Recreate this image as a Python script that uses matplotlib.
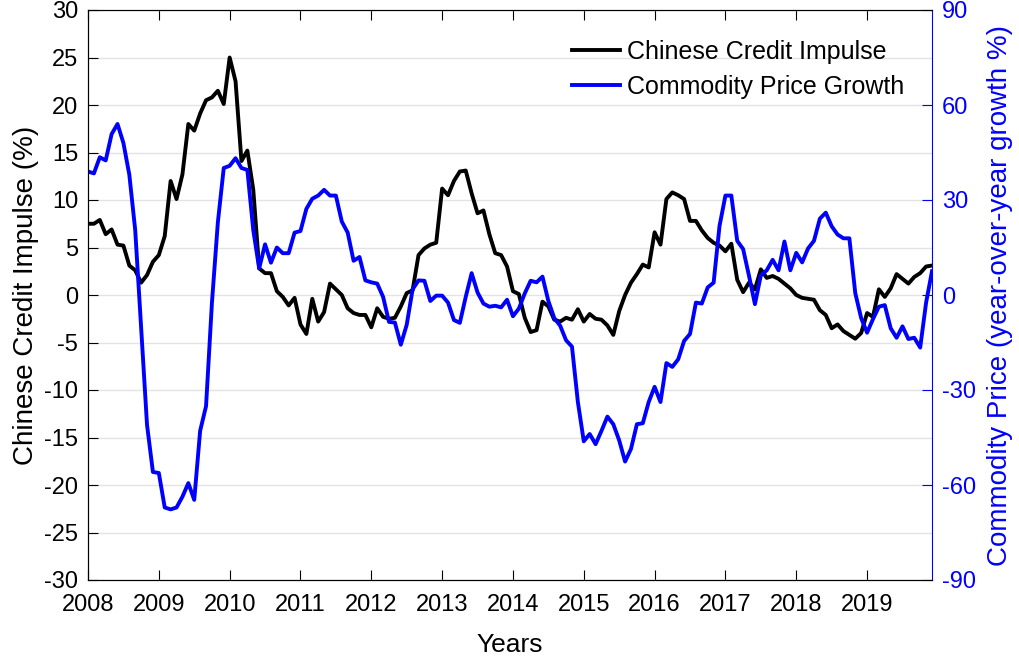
import numpy as np
import matplotlib.pyplot as plt

plt.rcParams['font.family'] = ['Liberation Sans', 'DejaVu Sans']
plt.rcParams['axes.unicode_minus'] = False

# monthly, Jan 2008 .. Dec 2019
credit_impulse = [
    7.5, 7.5, 7.9, 6.4, 6.9, 5.3, 5.2, 3.1, 2.6, 1.3, 2.1, 3.5,          # 2008
    4.2, 6.2, 12.0, 10.1, 12.7, 18.0, 17.3, 19.1, 20.5, 20.8, 21.5, 20.1,  # 2009
    25.0, 22.5, 14.1, 15.2, 11.1, 2.8, 2.3, 2.3, 0.4, -0.2, -1.1, -0.3,    # 2010
    -3.1, -4.1, -0.4, -2.8, -1.8, 1.2, 0.6, 0.0, -1.4, -1.9, -2.1, -2.1,   # 2011
    -3.4, -1.4, -2.3, -2.5, -2.4, -1.2, 0.2, 0.5, 4.2, 4.9, 5.3, 5.5,      # 2012
    11.2, 10.5, 12.0, 13.0, 13.1, 10.7, 8.6, 8.9, 6.4, 4.4, 4.2, 3.0,     # 2013
    0.4, 0.1, -2.4, -3.9, -3.7, -0.7, -1.2, -2.6, -2.8, -2.4, -2.6, -1.5,  # 2014
    -2.8, -2.0, -2.5, -2.6, -3.2, -4.2, -1.7, 0.0, 1.3, 2.2, 3.2, 2.9,     # 2015
    6.6, 5.3, 10.1, 10.8, 10.5, 10.1, 7.8, 7.8, 6.8, 6.0, 5.5, 5.2,       # 2016
    4.6, 5.4, 1.6, 0.3, 1.3, 0.6, 2.7, 1.8, 2.0, 1.7, 1.2, 0.7,           # 2017
    0.0, -0.3, -0.4, -0.5, -1.6, -2.1, -3.5, -3.1, -3.8, -4.2, -4.6, -4.0, # 2018
    -1.9, -2.3, 0.6, -0.2, 0.7, 2.2, 1.7, 1.2, 1.9, 2.3, 3.0, 3.1,        # 2019
]
commodity_growth = [
    39.0, 38.4, 43.5, 42.5, 50.8, 54.0, 48.0, 38.0, 20.5, -10.0, -41.0, -55.9,       # 2008
    -56.2, -67.1, -67.7, -67.1, -63.7, -59.4, -64.7, -42.9, -35.1, -2.4, 22.9, 40.1, # 2009
    40.8, 43.2, 40.1, 39.5, 20.5, 8.4, 16.0, 10.2, 15.0, 13.2, 13.2, 19.7,           # 2010
    20.2, 27.2, 30.4, 31.4, 33.2, 31.4, 31.4, 23.2, 19.7, 10.8, 12.0, 4.6,           # 2011
    4.0, 3.6, -0.6, -8.5, -8.7, -15.7, -9.4, 1.8, 4.6, 4.5, -1.9, -0.2,              # 2012
    -0.2, -2.4, -7.9, -8.8, -0.6, 6.9, 0.8, -2.7, -3.7, -3.4, -3.9, -1.5,            # 2013
    -6.7, -4.3, 0.5, 4.5, 4.0, 5.8, -1.9, -7.3, -9.7, -14.3, -16.3, -33.8,           # 2014
    -46.2, -43.9, -47.1, -42.9, -38.4, -40.8, -45.9, -52.6, -48.6, -40.8, -40.5, -33.8, # 2015
    -29.0, -33.8, -21.5, -22.7, -20.3, -14.5, -12.3, -2.4, -2.7, 2.4, 3.9, 21.8,     # 2016
    31.4, 31.4, 17.1, 14.5, 6.0, -2.9, 6.2, 7.8, 11.1, 7.8, 16.9, 7.8,               # 2017
    13.3, 10.3, 14.7, 17.1, 24.1, 26.0, 21.7, 19.1, 17.9, 17.9, 0.6, -7.3,           # 2018
    -11.9, -7.6, -3.7, -3.2, -10.5, -13.5, -9.9, -13.9, -13.5, -16.6, -2.4, 7.5,     # 2019
]
year_ticks = list(range(2008, 2020))

t = 2008 + np.arange(len(credit_impulse)) / 12

fig = plt.figure(figsize=(10.2, 6.6), dpi=100)
ax = fig.add_axes([88 / 1020, 80 / 660, 844 / 1020, 570 / 660])

l1, = ax.plot(t, credit_impulse, color='black', lw=2.8, label='Chinese Credit Impulse')
ax.set_xlim(2008, t[-1])
ax.set_ylim(-30, 30)
ax.set_xticks(year_ticks)
ax.set_yticks(range(-30, 31, 5))
ax.grid(axis='y', color='#e3e3e3', lw=1)
ax.set_axisbelow(True)
ax.tick_params(direction='in', length=7, top=True, labelsize=17, width=0.8)
ax.tick_params(axis='x', pad=10)
ax.tick_params(axis='y', pad=7)
ax.set_xlabel('Years', fontsize=19, labelpad=12)
ax.set_ylabel('Chinese Credit Impulse (%)', fontsize=20, labelpad=4)

ax2 = ax.twinx()
l2, = ax2.plot(t, commodity_growth, color='blue', lw=2.8, label='Commodity Price Growth')
ax2.set_ylim(-90, 90)
ax2.set_yticks(range(-90, 91, 30))
ax2.tick_params(axis='y', direction='in', length=7, colors='blue', labelsize=17, pad=7, width=0.8)
ax2.spines['right'].set_color('blue')
ax.spines['right'].set_visible(False)
ax2.set_ylabel('Commodity Price (year-over-year growth %)', fontsize=20, color='blue', labelpad=8)

ax2.legend(handles=[l1, l2], loc='upper right', frameon=False, fontsize=18,
           handlelength=1.9, handletextpad=0.3, labelspacing=0.45,
           bbox_to_anchor=(0.994, 0.987))

fig.savefig('out.png', dpi=100)
